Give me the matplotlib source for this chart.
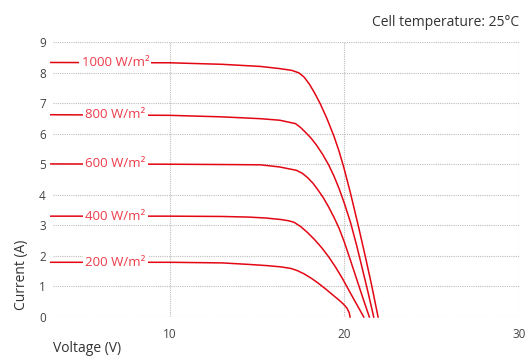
import matplotlib
matplotlib.use("Agg")
import matplotlib.pyplot as plt

plt.rcParams['font.family'] = ['Open Sans', 'DejaVu Sans']

# I-V curves, one per irradiance
labels = ["1000 W/m²", "800 W/m²", "600 W/m²", "400 W/m²", "200 W/m²"]

v_1000 = [3.2, 10, 13, 15.2, 16.3, 17.0, 17.4, 17.7, 18.0, 18.3, 18.62, 19.0, 19.41, 19.7, 19.98,
          20.34, 20.8, 21.2, 21.55, 21.93]
i_1000 = [8.33, 8.32, 8.27, 8.2, 8.13, 8.07, 7.99, 7.85, 7.62, 7.33, 6.98, 6.5, 5.91, 5.42, 4.87,
          4.08, 2.98, 1.98, 1.07, 0]

v_800 = [3.2, 10, 13, 15.2, 16.3, 17.2, 17.5, 17.8, 18.1, 18.4, 18.75, 19.1, 19.4, 19.7, 20.0,
         20.35, 20.7, 21.0, 21.35, 21.68]
i_800 = [6.62, 6.6, 6.55, 6.49, 6.44, 6.33, 6.2, 6.03, 5.85, 5.63, 5.33, 4.98, 4.62, 4.2, 3.72,
         3.1, 2.35, 1.65, 0.82, 0]

v_600 = [3.2, 10, 13, 15.2, 16.3, 17.26, 17.6, 17.9, 18.2, 18.5, 18.8, 19.1, 19.4, 19.7, 20.0,
         20.3, 20.6, 20.9, 21.15, 21.43]
i_600 = [5.01, 5.0, 4.99, 4.98, 4.91, 4.80, 4.7, 4.56, 4.38, 4.15, 3.9, 3.6, 3.27, 2.9, 2.45,
         1.94, 1.42, 0.9, 0.47, 0]

v_400 = [3.2, 10, 13, 14.5, 15.5, 16.36, 16.8, 17.12, 17.5, 17.9, 18.3, 18.7, 19.1, 19.5, 19.9,
         20.3, 20.7, 21.11]
i_400 = [3.30, 3.30, 3.29, 3.27, 3.24, 3.19, 3.15, 3.1, 2.96, 2.76, 2.53, 2.27, 1.97, 1.63, 1.25,
         0.83, 0.42, 0]

v_200 = [3.2, 10, 13, 14.55, 15.6, 16.36, 16.93, 17.3, 17.7, 18.1, 18.5, 18.9, 19.3, 19.7, 19.95,
         20.15, 20.27, 20.33]
i_200 = [1.79, 1.79, 1.77, 1.72, 1.68, 1.64, 1.59, 1.52, 1.41, 1.27, 1.11, 0.93, 0.74, 0.55, 0.42,
         0.29, 0.15, 0]

curves = [(v_1000, i_1000), (v_800, i_800), (v_600, i_600), (v_400, i_400), (v_200, i_200)]
label_v = 6.9  # voltage where the irradiance labels sit

line_red = '#e30613'
text_red = '#ee3b4a'
grey = '#444444'

fig = plt.figure(figsize=(5.27, 3.56), dpi=100)
ax = fig.add_axes([0.1, 0.1096, 0.885, 0.7724])

for (v, i), lab in zip(curves, labels):
    ax.plot(v, i, color=line_red, lw=1.1, clip_on=False, zorder=3, solid_joinstyle='round')
    ax.text(label_v, i[0], lab, color=text_red, fontsize=9.5, ha='center', va='center',
            zorder=4, bbox=dict(facecolor='white', edgecolor='none', pad=1.5))

ax.set_xlim(3.31, 30)
ax.set_ylim(0, 9)
ax.set_xticks([10, 20, 30])
ax.set_yticks(range(10))
ax.grid(True, color='#bdbdbd', lw=0.8, linestyle=(0, (1, 1)))
ax.set_axisbelow(True)
for s in ax.spines.values():
    s.set_visible(False)
ax.tick_params(length=0, labelsize=8.5, labelcolor=grey)
ax.tick_params(axis='x', pad=8)
ax.tick_params(axis='y', pad=5)

fig.text(22 / 527, 1 - 275 / 356, "Current (A)", rotation=90, ha='center', va='center',
         fontsize=10, color='#333333')
fig.text(53 / 527, 1 - 348 / 356, "Voltage (V)", ha='left', va='center',
         fontsize=10, color='#333333')
fig.text(519 / 527, 1 - 22 / 356, "Cell temperature: 25°C", ha='right', va='center',
         fontsize=10, color='#333333')

fig.savefig("out.png", dpi=100)
